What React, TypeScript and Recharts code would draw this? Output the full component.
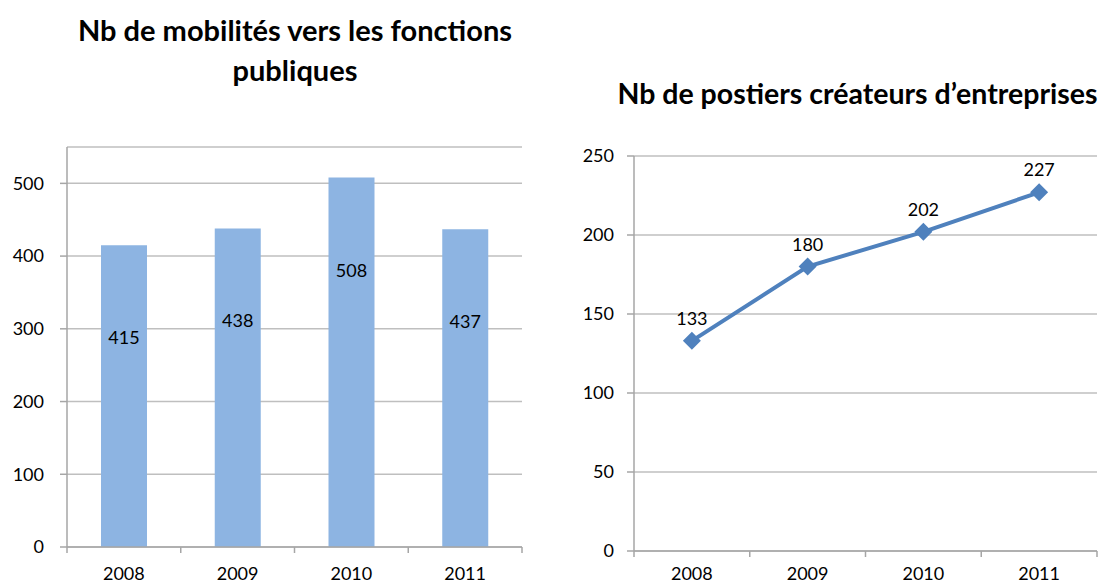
import React from "react"
import { BarChart, Bar, LineChart, Line, XAxis, YAxis, CartesianGrid, LabelList } from "recharts"

const years = ["2008", "2009", "2010", "2011"]
const mobilites = [415, 438, 508, 437]
const createurs = [133, 180, 202, 227]
const barTicks = [0, 100, 200, 300, 400, 500]
const lineTicks = [0, 50, 100, 150, 200, 250]

const barData = years.map((year, i) => ({ year, value: mobilites[i] }))
const lineData = years.map((year, i) => ({ year, value: createurs[i] }))

const FONT = "Lato, 'Open Sans', sans-serif"
const AXIS = "#A6A6A6"
const GRID = "#BFBFBF"

// left chart geometry
const L_W = 540
const L_YW = 67
const L_RIGHT = 18
const L_BAND = (L_W - L_YW - L_RIGHT) / years.length

// right chart geometry
const R_W = 565
const R_YW = 94
const R_RIGHT = 8
const R_BAND = (R_W - R_YW - R_RIGHT) / years.length

function makeTick(band: number, labelDy: number) {
  return (props: any) => {
    const { x, y, payload, index } = props
    const last = index === years.length - 1
    return (
      <g>
        <line x1={x - band / 2} x2={x - band / 2} y1={y} y2={y + 6} stroke={AXIS} strokeWidth={1.5} />
        {last && <line x1={x + band / 2} x2={x + band / 2} y1={y} y2={y + 6} stroke={AXIS} strokeWidth={1.5} />}
        <text x={x} y={y + labelDy} textAnchor="middle" fontSize={18} fill="#000" fontFamily={FONT}>
          {payload.value}
        </text>
      </g>
    )
  }
}

function BarValue(props: any) {
  const { x, y, width, value } = props
  return (
    <text x={x + width / 2} y={y + 92} textAnchor="middle" dominantBaseline="central" fontSize={18} fill="#000" fontFamily={FONT}>
      {value}
    </text>
  )
}

function Diamond(props: any) {
  const { cx, cy } = props
  if (cx == null || cy == null) return null
  const r = 9
  return <polygon points={`${cx},${cy - r} ${cx + r},${cy} ${cx},${cy + r} ${cx - r},${cy}`} fill="#4F81BD" />
}

const tickStyle = { fontSize: 18, fill: "#000", fontFamily: FONT }

export default function App() {
  return (
    <div style={{ position: "absolute", left: 0, top: 0, width: 1105, height: 585, background: "#fff", fontFamily: FONT, overflow: "hidden" }}>
      <div style={{ position: "absolute", left: 20, width: 550, top: 10, textAlign: "center", fontSize: 29, fontWeight: 700, lineHeight: "40px", color: "#000" }}>
        Nb de mobilités vers les fonctions
        <br />
        publiques
      </div>
      <div style={{ position: "absolute", left: 580, width: 555, top: 73, textAlign: "center", fontSize: 28.5, fontWeight: 700, lineHeight: "40px", color: "#000", whiteSpace: "nowrap" }}>
        Nb de postiers créateurs d’entreprises
      </div>

      <div style={{ position: "absolute", left: 0, top: 0 }}>
        <BarChart width={L_W} height={585} data={barData} margin={{ top: 147, right: L_RIGHT, left: 0, bottom: 0 }} barSize={46}>
          <CartesianGrid vertical={false} stroke={GRID} strokeWidth={1.5} />
          <XAxis dataKey="year" height={38} tickSize={0} tickMargin={0} axisLine={{ stroke: AXIS, strokeWidth: 1.5 }} tickLine={false} tick={makeTick(L_BAND, 33)} interval={0} />
          <YAxis width={L_YW} domain={[0, 550]} ticks={barTicks} tickSize={7} tickMargin={16} axisLine={{ stroke: AXIS, strokeWidth: 1.5 }} tickLine={{ stroke: AXIS, strokeWidth: 1.5 }} tick={tickStyle} />
          <Bar dataKey="value" fill="#8DB4E2" isAnimationActive={false}>
            <LabelList dataKey="value" content={<BarValue />} />
          </Bar>
        </BarChart>
      </div>

      <div style={{ position: "absolute", left: L_W, top: 0 }}>
        <LineChart width={R_W} height={585} data={lineData} margin={{ top: 156, right: R_RIGHT, left: 0, bottom: 0 }}>
          <CartesianGrid vertical={false} stroke={GRID} strokeWidth={1.5} />
          <XAxis dataKey="year" height={34} padding={{ left: R_BAND / 2, right: R_BAND / 2 }} tickSize={0} tickMargin={0} axisLine={{ stroke: AXIS, strokeWidth: 1.5 }} tickLine={false} tick={makeTick(R_BAND, 29)} interval={0} />
          <YAxis width={R_YW} domain={[0, 250]} ticks={lineTicks} tickSize={7} tickMargin={13} axisLine={{ stroke: AXIS, strokeWidth: 1.5 }} tickLine={{ stroke: AXIS, strokeWidth: 1.5 }} tick={tickStyle} />
          <Line dataKey="value" stroke="#4F81BD" strokeWidth={4} dot={<Diamond />} activeDot={false} isAnimationActive={false}>
            <LabelList dataKey="value" position="top" offset={16} fontSize={18} fill="#000" fontFamily={FONT} />
          </Line>
        </LineChart>
      </div>
    </div>
  )
}
